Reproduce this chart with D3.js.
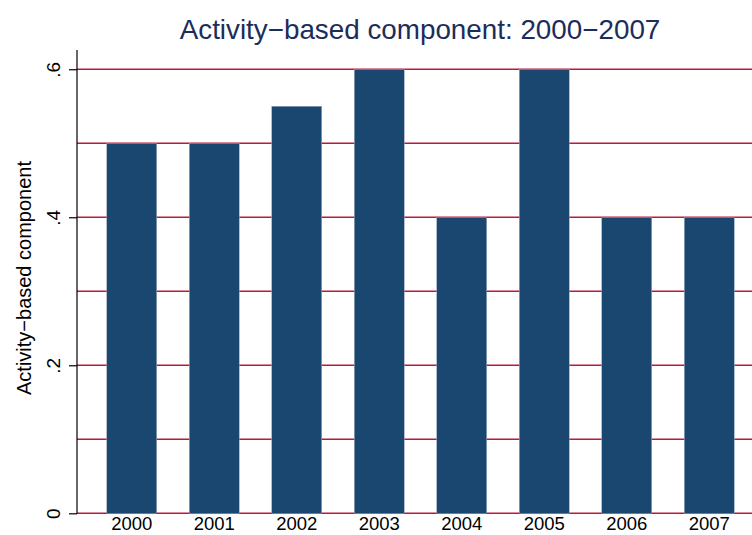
<!DOCTYPE html>
<html><head><meta charset="utf-8">
<script src="https://cdn.jsdelivr.net/npm/d3@7"></script>
<style>html,body{margin:0;padding:0;background:#fff;overflow:hidden}</style>
</head><body>
<svg id="c" width="752" height="535"></svg>
<script>
const years = ["2000","2001","2002","2003","2004","2005","2006","2007"];
const values = [0.5, 0.5, 0.55, 0.6, 0.4, 0.6, 0.4, 0.4];
const gridValues = [0, 0.1, 0.2, 0.3, 0.4, 0.5, 0.6];
const tickValues = [0, 0.2, 0.4, 0.6];
const tickLabels = ["0", ".2", ".4", ".6"];
const titleText = "Activity\u2212based component: 2000\u22122007";
const yTitle = "Activity\u2212based component";

const font = "'Liberation Sans', Arial, Helvetica, sans-serif";
const svg = d3.select("#c");
const axisX = 77;
const y = d3.scaleLinear().domain([0, 0.626]).range([513.3, 50]);
const x = d3.scaleBand().domain(years).range([90.5, 750.5]).paddingInner(0.394).paddingOuter(0.197);

// grid
svg.append("g").selectAll("line").data(gridValues).join("line")
  .attr("x1", axisX).attr("x2", 752)
  .attr("y1", d => y(d)).attr("y2", d => y(d))
  .attr("stroke", "#c0163c").attr("stroke-width", 1.4);

// bars
svg.append("g").selectAll("rect").data(values).join("rect")
  .attr("x", (d, i) => x(years[i]))
  .attr("width", x.bandwidth())
  .attr("y", d => y(d))
  .attr("height", d => y(0) - y(d))
  .attr("fill", "#1a476f")
  .attr("stroke", "#9fb0c6").attr("stroke-width", 0.5);

// y axis
const yAxis = d3.axisLeft(y).tickValues(tickValues).tickSize(8).tickPadding(8)
  .tickFormat((d, i) => tickLabels[i]);
const ga = svg.append("g").attr("transform", `translate(${axisX},0)`).call(yAxis);
ga.select(".domain").remove();
ga.append("line").attr("x1", 0).attr("x2", 0).attr("y1", 50).attr("y2", 513.8).attr("stroke", "#000").attr("stroke-width", 1.2);
ga.selectAll(".tick line").attr("stroke", "#000").attr("stroke-width", 1.2);
ga.selectAll(".tick text")
  .attr("font-family", font).attr("font-size", 19).attr("fill", "#000")
  .attr("text-anchor", "middle")
  .attr("x", null).attr("dy", null)
  .attr("transform", "translate(-17,0) rotate(-90)");

// x labels
svg.append("g").selectAll("text").data(years).join("text")
  .attr("x", d => x(d) + x.bandwidth() / 2)
  .attr("y", 530)
  .attr("text-anchor", "middle")
  .attr("font-family", font).attr("font-size", 18.5).attr("fill", "#000")
  .text(d => d);

// title
svg.append("text").attr("x", 420).attr("y", 38.5).attr("text-anchor", "middle")
  .attr("font-family", font).attr("font-size", 27.8).attr("fill", "#1c2d5a")
  .text(titleText);

// y title
svg.append("text").attr("transform", "translate(31,278) rotate(-90)")
  .attr("text-anchor", "middle")
  .attr("font-family", font).attr("font-size", 20).attr("fill", "#000")
  .text(yTitle);
</script>
</body></html>
